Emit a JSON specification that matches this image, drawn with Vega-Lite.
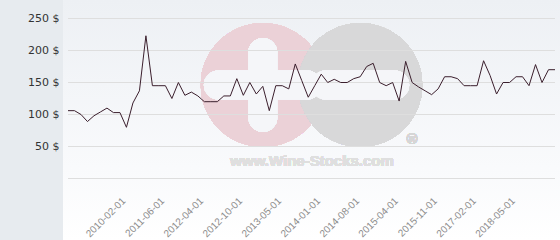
{
  "$schema": "https://vega.github.io/schema/vega-lite/v6.json",
  "width": 497,
  "height": 240,
  "autosize": "none",
  "padding": {"left": 63, "top": 0, "right": 0, "bottom": 0},
  "background": "#e7ebef",
  "config": {
    "view": {
      "stroke": null,
      "fill": {
        "gradient": "linear",
        "x1": 0, "y1": 0, "x2": 0, "y2": 1,
        "stops": [
          {"offset": 0, "color": "#edf0f4"},
          {"offset": 0.7, "color": "#f9fafc"},
          {"offset": 1, "color": "#ffffff"}
        ]
      }
    }
  },
  "datasets": {
    "prices": [
      {"date": "2008-03-01", "price": 106},
      {"date": "2008-05-01", "price": 106},
      {"date": "2008-07-01", "price": 100},
      {"date": "2008-09-01", "price": 89},
      {"date": "2008-11-01", "price": 98},
      {"date": "2009-02-01", "price": 104},
      {"date": "2009-05-01", "price": 110},
      {"date": "2009-08-01", "price": 103},
      {"date": "2009-11-01", "price": 103},
      {"date": "2010-02-01", "price": 80},
      {"date": "2010-04-01", "price": 118},
      {"date": "2010-06-01", "price": 137},
      {"date": "2010-09-01", "price": 223},
      {"date": "2010-12-01", "price": 145},
      {"date": "2011-03-01", "price": 145},
      {"date": "2011-06-01", "price": 145},
      {"date": "2011-08-01", "price": 125},
      {"date": "2011-10-01", "price": 150},
      {"date": "2011-12-01", "price": 130},
      {"date": "2012-01-01", "price": 135},
      {"date": "2012-03-01", "price": 129},
      {"date": "2012-04-01", "price": 120},
      {"date": "2012-05-01", "price": 120},
      {"date": "2012-06-01", "price": 120},
      {"date": "2012-07-01", "price": 129},
      {"date": "2012-08-01", "price": 129},
      {"date": "2012-09-01", "price": 156},
      {"date": "2012-10-01", "price": 130},
      {"date": "2012-11-01", "price": 150},
      {"date": "2012-12-01", "price": 132},
      {"date": "2013-01-01", "price": 144},
      {"date": "2013-02-01", "price": 106},
      {"date": "2013-04-01", "price": 145},
      {"date": "2013-05-01", "price": 145},
      {"date": "2013-06-01", "price": 140},
      {"date": "2013-07-01", "price": 179},
      {"date": "2013-09-01", "price": 153},
      {"date": "2013-10-01", "price": 127},
      {"date": "2013-11-01", "price": 145},
      {"date": "2014-01-01", "price": 163},
      {"date": "2014-02-01", "price": 150},
      {"date": "2014-03-01", "price": 155},
      {"date": "2014-04-01", "price": 150},
      {"date": "2014-05-01", "price": 150},
      {"date": "2014-06-01", "price": 156},
      {"date": "2014-08-01", "price": 159},
      {"date": "2014-09-01", "price": 175},
      {"date": "2014-10-01", "price": 180},
      {"date": "2014-12-01", "price": 150},
      {"date": "2015-01-01", "price": 145},
      {"date": "2015-03-01", "price": 150},
      {"date": "2015-04-01", "price": 121},
      {"date": "2015-05-01", "price": 183},
      {"date": "2015-06-01", "price": 150},
      {"date": "2015-08-01", "price": 143},
      {"date": "2015-09-01", "price": 137},
      {"date": "2015-10-01", "price": 131},
      {"date": "2015-11-01", "price": 140},
      {"date": "2016-01-01", "price": 159},
      {"date": "2016-03-01", "price": 159},
      {"date": "2016-06-01", "price": 156},
      {"date": "2016-09-01", "price": 145},
      {"date": "2016-12-01", "price": 145},
      {"date": "2017-02-01", "price": 145},
      {"date": "2017-04-01", "price": 184},
      {"date": "2017-06-01", "price": 161},
      {"date": "2017-08-01", "price": 132},
      {"date": "2017-10-01", "price": 150},
      {"date": "2018-02-01", "price": 150},
      {"date": "2018-05-01", "price": 159},
      {"date": "2018-07-01", "price": 159},
      {"date": "2018-09-01", "price": 145},
      {"date": "2018-11-01", "price": 178},
      {"date": "2019-01-01", "price": 150},
      {"date": "2019-03-01", "price": 170},
      {"date": "2019-05-01", "price": 170}
    ],
    "grid": [
      {"v": 0}, {"v": 50}, {"v": 100}, {"v": 150}, {"v": 200}, {"v": 250}
    ]
  },
  "layer": [
    {
      "data": {"name": "prices"},
      "mark": {"type": "point", "shape": "circle", "filled": true, "size": 15376, "color": "#ebd1d7", "opacity": 1, "strokeWidth": 0},
      "encoding": {
        "x": {"datum": "2013-01-01", "type": "ordinal", "axis": {"title": null}},
        "y": {"datum": 146, "type": "quantitative", "axis": {"title": null}}
      }
    },
    {
      "data": {"name": "prices"},
      "mark": {"type": "point", "shape": "circle", "filled": true, "size": 15376, "color": "#d8d8d9", "opacity": 1, "strokeWidth": 0},
      "encoding": {
        "x": {"datum": "2014-08-01", "type": "ordinal", "axis": {"title": null}},
        "y": {"datum": 146, "type": "quantitative", "axis": {"title": null}}
      }
    },
    {
      "data": {"name": "prices"},
      "mark": {"type": "point", "shape": "M-0.234,-0.524 A0.234,0.234 0 0 1 0.234,-0.524 V-0.234 H0.716 A0.234,0.234 0 0 1 0.716,0.234 H0.234 V0.524 A0.234,0.234 0 0 1 -0.234,0.524 V0.234 H-0.716 A0.234,0.234 0 0 1 -0.716,-0.234 H-0.234 Z", "filled": true, "size": 15376, "color": "#f5f6f9", "opacity": 1, "strokeWidth": 0},
      "encoding": {
        "x": {"datum": "2013-01-01", "type": "ordinal", "axis": {"title": null}},
        "y": {"datum": 146, "type": "quantitative", "axis": {"title": null}}
      }
    },
    {
      "data": {"name": "prices"},
      "mark": {"type": "point", "shape": "M-0.556,-0.234 H0.556 A0.234,0.234 0 0 1 0.556,0.234 H-0.556 A0.234,0.234 0 0 1 -0.556,-0.234 Z", "filled": true, "size": 15376, "color": "#f5f6f9", "opacity": 1, "strokeWidth": 0},
      "encoding": {
        "x": {"datum": "2014-08-01", "type": "ordinal", "axis": {"title": null}},
        "y": {"datum": 146, "type": "quantitative", "axis": {"title": null}}
      }
    },
    {
      "data": {"name": "prices"},
      "mark": {"type": "text", "text": "www.Wine-Stocks.com", "align": "left", "baseline": "middle", "font": "Liberation Sans", "fontWeight": "bold", "fontSize": 15, "color": "#dfdfdf"},
      "encoding": {
        "x": {"datum": "2012-08-01", "type": "ordinal", "axis": {"title": null}},
        "y": {"datum": 27, "type": "quantitative", "axis": {"title": null}}
      }
    },
    {
      "data": {"name": "prices"},
      "mark": {"type": "text", "text": "®", "align": "center", "baseline": "middle", "font": "Liberation Sans", "fontWeight": "bold", "fontSize": 15, "color": "#d6d6d6"},
      "encoding": {
        "x": {"datum": "2015-06-01", "type": "ordinal", "axis": {"title": null}},
        "y": {"datum": 62, "type": "quantitative", "axis": {"title": null}}
      }
    },
    {
      "data": {"name": "grid"},
      "mark": {"type": "rule", "color": "#dedede", "strokeWidth": 1},
      "encoding": {
        "x": {"datum": "2008-03-01", "type": "ordinal", "axis": {"title": null}},
        "x2": {"datum": "2019-05-01"},
        "y": {"field": "v", "type": "quantitative", "axis": {"title": null}}
      }
    },
    {
      "data": {"name": "prices"},
      "mark": {"type": "line", "color": "#3b1f2d", "strokeWidth": 1},
      "encoding": {
        "x": {
          "field": "date",
          "type": "ordinal",
          "scale": {"type": "point", "padding": 0.77},
          "axis": {
            "title": null,
            "values": ["2010-02-01", "2011-06-01", "2012-04-01", "2012-10-01", "2013-05-01", "2014-01-01", "2014-08-01", "2015-04-01", "2015-11-01", "2017-02-01", "2018-05-01"],
            "labelAngle": -45,
            "labelAlign": "right",
            "labelBaseline": "middle",
            "labelPadding": 21,
            "labelOffset": -3,
            "ticks": false,
            "domain": false,
            "grid": false,
            "offset": -62,
            "labelFont": "Liberation Sans",
            "labelFontSize": 10,
            "labelColor": "#8c8c8c",
            "labelOverlap": false
          }
        },
        "y": {
          "field": "price",
          "type": "quantitative",
          "scale": {"domain": [-96.094, 278.906], "nice": false, "zero": false},
          "axis": {
            "title": null,
            "values": [0, 50, 100, 150, 200, 250],
            "labelExpr": "datum.value == 0 ? '' : datum.value + ' $'",
            "grid": false,
            "ticks": false,
            "domain": false,
            "labelPadding": 4,
            "labelFont": "DejaVu Sans",
            "labelFontSize": 11,
            "labelColor": "#333333"
          }
        }
      }
    }
  ]
}
